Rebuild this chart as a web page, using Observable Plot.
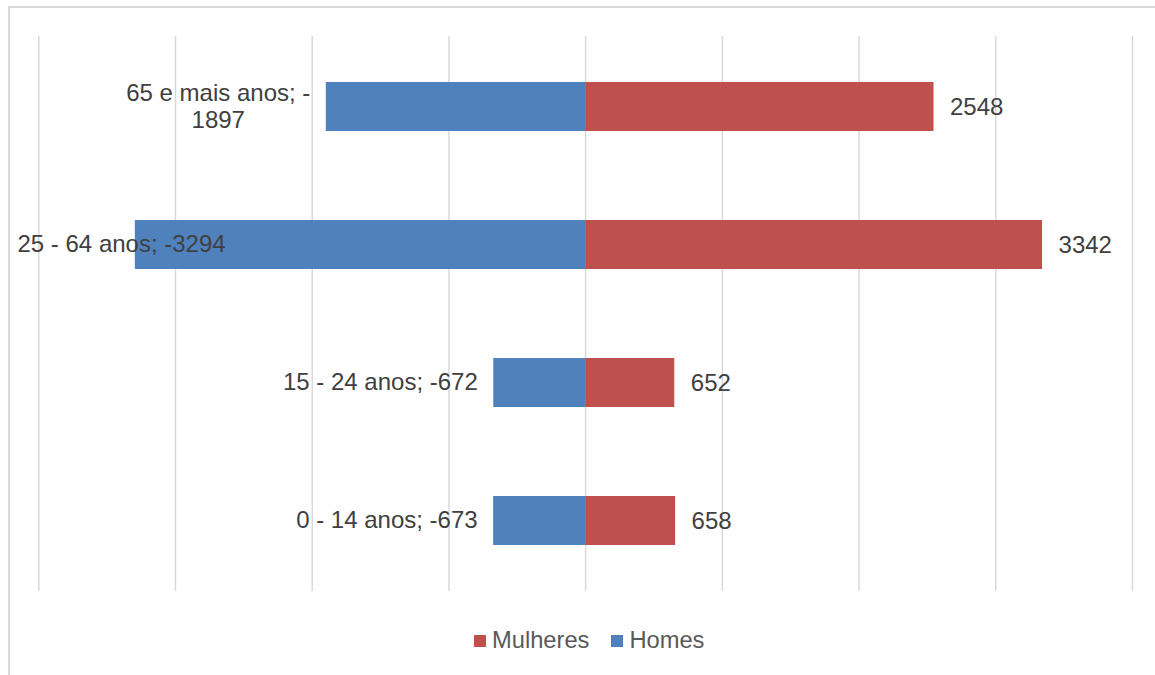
<!DOCTYPE html>
<html>
<head>
<meta charset="utf-8">
<script src="https://cdn.jsdelivr.net/npm/d3@7"></script>
<script src="https://cdn.jsdelivr.net/npm/@observablehq/plot@0.6"></script>
<style>
  html, body { margin: 0; padding: 0; background: #fff; }
  #wrap { position: relative; width: 1155px; height: 675px; overflow: hidden; background: #fff; }
  #border { position: absolute; left: 8px; top: 6px; width: 1170px; height: 690px; border: 2px solid #d9d9d9; box-sizing: border-box; }
  #chart { position: absolute; left: 0; top: 0; }
  #legend { position: absolute; left: 474px; top: 627px; font: 23.7px 'Liberation Sans', Arial, sans-serif; color: #595959; display: flex; align-items: center; white-space: nowrap; }
  .sw { display: inline-block; width: 12px; height: 12px; margin-right: 6px; }
  .item { display: flex; align-items: center; margin-right: 22px; }
</style>
</head>
<body>
<div id="wrap">
  <div id="border"></div>
  <div id="chart"></div>
  <div id="legend"></div>
</div>
<script>
const ages = ["65 e mais anos", "25 - 64 anos", "15 - 24 anos", "0 - 14 anos"];
const homes = [-1897, -3294, -672, -673];
const mulheres = [2548, 3342, 652, 658];
const homesLabels = ["65 e mais anos; -\n1897", "25 - 64 anos; -3294", "15 - 24 anos; -672", "0 - 14 anos; -673"];
const mulheresLabels = ["2548", "3342", "652", "658"];
const xTicks = [-4000, -3000, -2000, -1000, 0, 1000, 2000, 3000, 4000];
const seriesNames = ["Mulheres", "Homes"];
const seriesColors = ["#C0504D", "#4F81BD"];

const FONT_SIZE = 24;
const FONT_FAMILY = "'Liberation Sans', Arial, sans-serif";
const W = 1155, H = 600, ML = 38.3, MR = 23, MT = 36, MB = 9;

const ctx = document.createElement("canvas").getContext("2d");
ctx.font = `${FONT_SIZE}px ${FONT_FAMILY}`;
const xs = Plot.scale({x: {domain: [-4000, 4000], range: [ML, W - MR]}});
const minLeft = 17;

const homesRows = ages.map((a, i) => {
  const w = Math.max(...homesLabels[i].split("\n").map(s => ctx.measureText(s).width));
  const right = xs.apply(homes[i]) - 16;
  const center = Math.max(right - w / 2, minLeft + w / 2);
  return {age: a, value: homes[i], label: homesLabels[i], xc: xs.invert(center)};
});
const mulheresRows = ages.map((a, i) => ({age: a, value: mulheres[i], label: mulheresLabels[i]}));

const plot = Plot.plot({
  width: W, height: H,
  marginTop: MT, marginBottom: MB, marginLeft: ML, marginRight: MR,
  style: {fontFamily: FONT_FAMILY, background: "transparent"},
  x: {domain: [-4000, 4000], axis: null},
  y: {domain: ages, axis: null, paddingInner: 0.647, paddingOuter: 0.3235, align: 0.5},
  marks: [
    Plot.ruleX(xTicks, {stroke: "#d9d9d9", strokeWidth: 1.5}),
    Plot.barX(homesRows, {x: "value", y: "age", fill: seriesColors[1]}),
    Plot.barX(mulheresRows, {x: "value", y: "age", fill: seriesColors[0]}),
    Plot.text(homesRows, {x: "xc", y: "age", text: "label", textAnchor: "middle", lineAnchor: "middle", lineHeight: 1.15, dy: -1.5, fontSize: FONT_SIZE, fill: "#404040"}),
    Plot.text(mulheresRows, {x: "value", y: "age", text: "label", textAnchor: "start", dx: 16, lineAnchor: "middle", fontSize: FONT_SIZE, fill: "#404040"})
  ]
});
document.getElementById("chart").appendChild(plot);

const legend = document.getElementById("legend");
seriesNames.forEach((n, i) => {
  const it = document.createElement("span");
  it.className = "item";
  const sw = document.createElement("span");
  sw.className = "sw";
  sw.style.background = seriesColors[i];
  it.appendChild(sw);
  it.appendChild(document.createTextNode(n));
  legend.appendChild(it);
});
</script>
</body>
</html>
